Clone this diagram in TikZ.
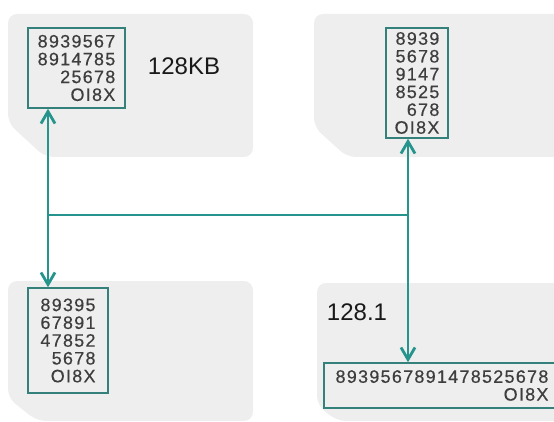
\documentclass[tikz,border=0pt]{standalone}
\usepackage{fontspec}
\setmainfont{Liberation Sans}
\newfontfamily\digitfont[LetterSpace=7,FakeBold=0.4]{Liberation Sans}
\usetikzlibrary{arrows.meta}
\definecolor{tealline}{RGB}{36,148,140}
\definecolor{tealbox}{RGB}{52,128,122}
\definecolor{cardgray}{RGB}{238,238,238}
\definecolor{digitgray}{RGB}{62,62,62}
\tikzset{
  card/.style={fill=cardgray, rounded corners=9pt},
  numbox/.style={draw=tealbox, line width=1.5pt, fill=cardgray, align=right,
    font=\digitfont\fontsize{18}{17.8}\selectfont, text=digitgray, inner sep=0pt},
  biglabel/.style={font=\fontsize{24}{26}\selectfont, text=black!90, inner sep=0pt},
  link/.style={draw=tealline, line width=2.8pt},
  dblarrow/.style={link, {Straight Barb[length=12pt,width=14pt,line width=2.8pt]}-{Straight Barb[length=12pt,width=14pt,line width=2.8pt]}}
}
\begin{document}
\begin{tikzpicture}[x=1pt,y=-1pt]
\useasboundingbox (0,0) rectangle (554,422);
% cards
\fill[card] (45,157) -- (8,123) -- (8,14) -- (253,14) -- (253,157) -- cycle;
\fill[card] (347,157) -- (314,127) -- (314,14) -- (575,14) -- (575,157) -- cycle;
\fill[card] (37,421) -- (8,398) -- (8,281) -- (253,281) -- (253,421) -- cycle;
\fill[card] (337,421) -- (317,405) -- (317,283) -- (575,283) -- (575,421) -- cycle;
% boxes
\node[numbox, minimum width=97pt, minimum height=80pt] (b1) at (76.5,68)
  {8939567\\8914785\\25678\\OI8X};
\node[numbox, minimum width=62pt, minimum height=110pt] (b2) at (417,83)
  {8939\\5678\\9147\\8525\\678\\OI8X};
\node[numbox, minimum width=80pt, minimum height=105pt] (b3) at (68,340.5)
  {89395\\67891\\47852\\5678\\OI8X};
\node[numbox, minimum width=236pt, minimum height=45pt] (b4) at (442,385.5)
  {8939567891478525678\\OI8X};
% labels
\node[biglabel] (l1) at (184,66) {128KB};
\node[biglabel] (l2) at (357,312) {128.1};
% connectors
\coordinate (jl) at (48,215);
\coordinate (jr) at (408,215);
\draw[dblarrow] (b1.south -| jl) -- (b3.north -| jl);
\draw[dblarrow] (b2.south -| jr) -- (b4.north -| jr);
\draw[link] (jl) -- (jr);
\end{tikzpicture}
\end{document}
